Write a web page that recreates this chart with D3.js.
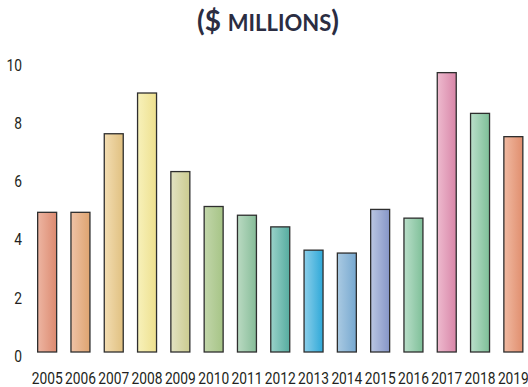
<!DOCTYPE html>
<html>
<head>
<meta charset="utf-8">
<script src="https://cdn.jsdelivr.net/npm/d3@7/dist/d3.min.js"></script>
<style>
  html, body { margin: 0; padding: 0; background: #fff; }
  svg { display: block; }
  .tick-label { font-family: Roboto, "Liberation Sans", sans-serif; font-size: 17px; fill: #231f20; }
</style>
</head>
<body>
<svg id="chart" width="528" height="387"></svg>
<script>
// Annual amounts, $ millions
const years = ["2005","2006","2007","2008","2009","2010","2011","2012","2013","2014","2015","2016","2017","2018","2019"];
const values = [4.8, 4.8, 7.5, 8.9, 6.2, 5.0, 4.7, 4.3, 3.5, 3.4, 4.9, 4.6, 9.6, 8.2, 7.4];
const yTicks = [0, 2, 4, 6, 8, 10];
// Per-bar gradient: light edge (left) to deep edge (right)
const lightColors = ["#edb5a2","#efc2a6","#f3ddb2","#f7f1ba","#e2e2c2","#c2d6aa","#badac2","#9ad2ca","#8ccfea","#aacae2","#bac6e2","#badfca","#eebace","#badfca","#f1baa2"];
const deepColors  = ["#dc8a70","#dea470","#e0c080","#eee08e","#cccc90","#a6c486","#86bc98","#56aca0","#2ea8d8","#76a8d0","#8696c8","#7ebf98","#d886a8","#7ebf98","#e08e6e"];

const svg = d3.select("#chart");

const x = d3.scaleBand()
  .domain(years)
  .range([30.5, 530])
  .paddingInner(0.43)
  .paddingOuter(0.215);

const y = d3.scaleLinear()
  .domain([0, 10])
  .range([352, 61]);

// Gradients
const defs = svg.append("defs");
years.forEach((yr, i) => {
  const g = defs.append("linearGradient")
    .attr("id", "grad" + yr)
    .attr("x1", "0%").attr("x2", "100%").attr("y1", "0%").attr("y2", "0%");
  g.append("stop").attr("offset", "0%").attr("stop-color", lightColors[i]);
  g.append("stop").attr("offset", "100%").attr("stop-color", deepColors[i]);
});

// Title
const title = svg.append("text")
  .attr("x", 268).attr("y", 31)
  .attr("text-anchor", "middle")
  .style("font-family", "Lato, 'Open Sans', sans-serif")
  .style("font-weight", "bold")
  .style("fill", "#2b2d42");
title.append("tspan").style("font-size", "28px").text("($ ");
title.append("tspan").style("font-size", "22px").text("MILLIONS");
title.append("tspan").style("font-size", "28px").text(")");

// Bars
svg.append("g").selectAll("rect")
  .data(years.map((yr, i) => ({ yr, v: values[i] })))
  .join("rect")
  .attr("x", d => x(d.yr))
  .attr("y", d => y(d.v))
  .attr("width", x.bandwidth())
  .attr("height", d => y(0) - y(d.v))
  .attr("fill", d => `url(#grad${d.yr})`)
  .attr("stroke", "#2e2e2e")
  .attr("stroke-width", 1.3);

// Narrow the tick digits horizontally for a condensed look
const condense = "scale(0.81,1)";

// Y axis (labels only)
const yAxis = d3.axisLeft(y).tickValues(yTicks).tickSize(0).tickPadding(0);
const yg = svg.append("g").attr("transform", "translate(22,0)").call(yAxis);
yg.select(".domain").remove();
yg.selectAll("text")
  .attr("class", "tick-label")
  .attr("dy", "0.55em")
  .attr("transform", condense);

// X axis (labels only)
const xAxis = d3.axisBottom(x).tickSize(0).tickPadding(0);
const xg = svg.append("g").attr("transform", "translate(0,371)").call(xAxis);
xg.select(".domain").remove();
xg.selectAll("text")
  .attr("class", "tick-label")
  .attr("dy", "0.75em")
  .attr("transform", condense);
</script>
</body>
</html>
